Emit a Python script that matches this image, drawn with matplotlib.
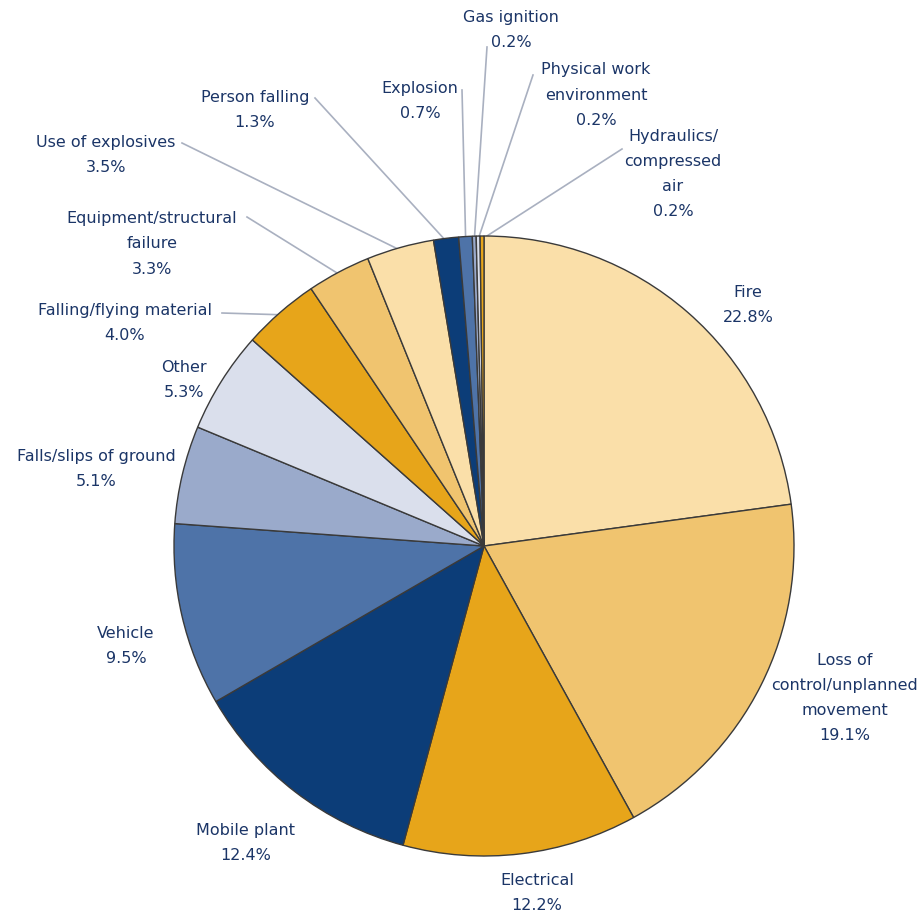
import numpy as np
import matplotlib
matplotlib.use('Agg')
import matplotlib.pyplot as plt

labels = ['Fire', 'Loss of\ncontrol/unplanned\nmovement', 'Electrical', 'Mobile plant',
          'Vehicle', 'Falls/slips of ground', 'Other', 'Falling/flying material',
          'Equipment/structural\nfailure', 'Use of explosives', 'Person falling',
          'Explosion', 'Gas ignition', 'Physical work\nenvironment',
          'Hydraulics/\ncompressed\nair']
values = [22.8, 19.1, 12.2, 12.4, 9.5, 5.1, 5.3, 4.0, 3.3, 3.5, 1.3, 0.7, 0.2, 0.2, 0.2]

pale, light, gold = '#FADFA9', '#F0C46F', '#E7A51A'
blue = ['#0C3D78', '#4E73A8', '#9AAACB', '#DADFEC']
colors = [pale, light, gold] + blue + [gold, light, pale] + blue + [gold]

# label text centres (pixels from top-left) and leader line start, None = no leader
label_pos = [(748, 305), (845, 698), (537, 893), (246, 843), (126, 646), (96, 469),
             (184, 380), (125, 323), (152, 244), (106, 155), (255, 110), (420, 101),
             (511, 30), (596, 95), (673, 174)]
leader_start = [None, None, None, None, None, None, None, (222, 313), (247, 217),
                (182, 143), (315, 98), (462, 90), (487, 47), (533, 75), (622, 149)]

W, H = 924, 916
cx, cy, r = 484, 546, 310
text_color = '#1B3567'

fig = plt.figure(figsize=(W / 100, H / 100), dpi=100)
ax = fig.add_axes([0, 0, 1, 1])
ax.set_xlim(0, W)
ax.set_ylim(0, H)
ax.set_aspect('equal')
ax.axis('off')

wedges, _ = ax.pie(values, colors=colors, startangle=90, counterclock=False,
                   center=(cx, H - cy), radius=r,
                   wedgeprops=dict(edgecolor='#3A3A3A', linewidth=1.0))
ax.set_xlim(0, W)
ax.set_ylim(0, H)

for i, w in enumerate(wedges):
    lx, ly = label_pos[i]
    pct = f'{values[i]:.1f}%'
    ax.text(lx, H - ly, labels[i] + '\n' + pct, ha='center', va='center',
            fontsize=11.5, color=text_color, family='DejaVu Sans',
            linespacing=1.85)
    if leader_start[i] is not None:
        mid = np.deg2rad((w.theta1 + w.theta2) / 2)
        ex = cx + r * 0.99 * np.cos(mid)
        ey = (H - cy) + r * 0.99 * np.sin(mid)
        sx, sy = leader_start[i]
        ax.plot([sx, ex], [H - sy, ey], color='#A9B0C0', linewidth=1.2, zorder=0)

fig.savefig('out.png', dpi=100, facecolor='white')
